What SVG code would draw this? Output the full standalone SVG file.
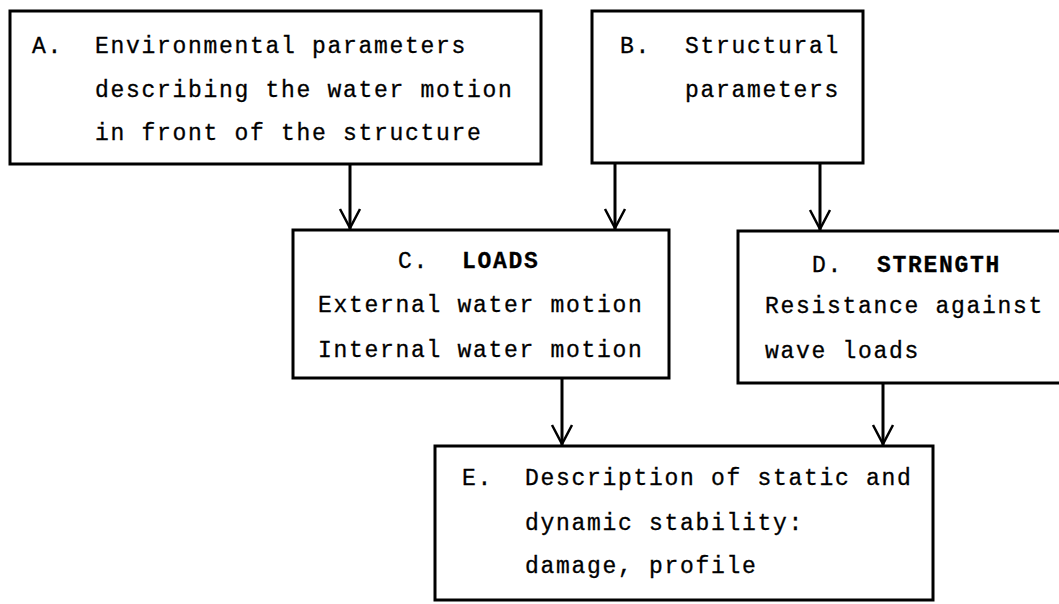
<svg xmlns="http://www.w3.org/2000/svg" width="1059" height="604" viewBox="0 0 1059 604">
<style>
.box{fill:#fff;stroke:#000;stroke-width:3}
.t{font-family:"Liberation Mono","DejaVu Sans Mono",monospace;font-size:23px;letter-spacing:1.7px;fill:#000;stroke:#000;stroke-width:0.3}
.b{font-weight:bold}
.c{stroke:#000;stroke-width:3;fill:none}
.h{stroke:#000;stroke-width:2.5;fill:none;stroke-linejoin:miter}
</style>
<rect width="1059" height="604" fill="#fff"/>
<g id="nodeA">
<rect class="box" x="10" y="11" width="531" height="153"/>
<text class="t" x="32" y="53">A.</text>
<text class="t" x="95" y="53">Environmental parameters</text>
<text class="t" x="95" y="97">describing the water motion</text>
<text class="t" x="95" y="140">in front of the structure</text>
</g>
<g id="nodeB">
<rect class="box" x="592" y="11" width="271" height="152"/>
<text class="t" x="620" y="53">B.</text>
<text class="t" x="685" y="53">Structural</text>
<text class="t" x="685" y="97">parameters</text>
</g>
<g id="nodeC">
<rect class="box" x="293" y="230" width="376" height="148"/>
<text class="t" x="398" y="268">C.</text>
<text class="t b" x="462" y="268">LOADS</text>
<text class="t" x="318" y="312">External water motion</text>
<text class="t" x="318" y="357">Internal water motion</text>
</g>
<g id="nodeD">
<rect class="box" x="738" y="231" width="325" height="152"/>
<text class="t" x="812" y="272">D.</text>
<text class="t b" x="877" y="272">STRENGTH</text>
<text class="t" x="765" y="313">Resistance against</text>
<text class="t" x="765" y="358">wave loads</text>
</g>
<g id="nodeE">
<rect class="box" x="435" y="446" width="498" height="154"/>
<text class="t" x="462" y="485">E.</text>
<text class="t" x="525" y="485">Description of static and</text>
<text class="t" x="525" y="530">dynamic stability:</text>
<text class="t" x="525" y="573">damage, profile</text>
</g>
<g id="connectors">
<line class="c" x1="350" y1="165" x2="350" y2="229"/>
<polyline class="h" points="340,209 350,228 360,209"/>
<line class="c" x1="615" y1="163" x2="615" y2="229"/>
<polyline class="h" points="605,209 615,228 625,209"/>
<line class="c" x1="820" y1="163" x2="820" y2="230"/>
<polyline class="h" points="810,210 820,229 830,210"/>
<line class="c" x1="562" y1="378" x2="562" y2="445"/>
<polyline class="h" points="552,425 562,444 572,425"/>
<line class="c" x1="883" y1="383" x2="883" y2="445"/>
<polyline class="h" points="873,425 883,444 893,425"/>
</g>
</svg>
